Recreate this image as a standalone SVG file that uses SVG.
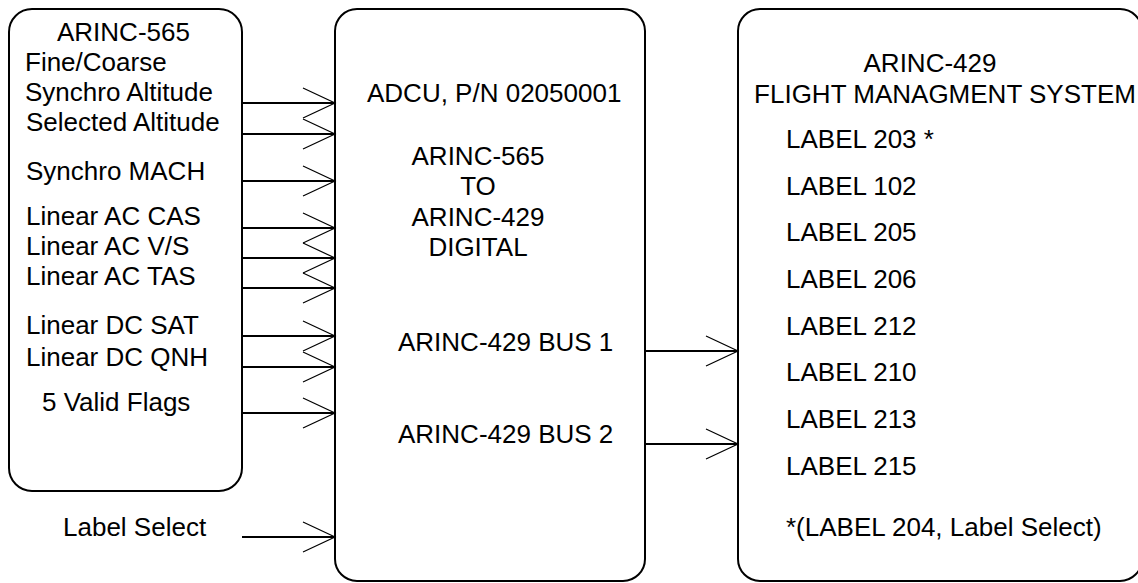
<svg xmlns="http://www.w3.org/2000/svg" width="1138" height="583" viewBox="0 0 1138 583">
<style>
.box{fill:#fff;stroke:#000;stroke-width:2}
.t{font-family:"Liberation Sans",Arial,sans-serif;font-size:26px;fill:#000}
.c{text-anchor:middle}
.ln{stroke:#000;stroke-width:2;fill:none;marker-end:url(#arr)}
</style>
<defs>
<marker id="arr" markerUnits="userSpaceOnUse" markerWidth="40" markerHeight="34" viewBox="0 0 40 34" refX="36" refY="17" orient="auto" overflow="visible">
<path d="M4,2 L36,17 L4,32" fill="none" stroke="#000" stroke-width="1.2"/>
</marker>
</defs>
<rect width="1138" height="583" fill="#fff"/>
<g id="inputs">
<rect class="box" x="9" y="9" width="233" height="482" rx="23" ry="23"/>
<text class="t" x="57" y="41">ARINC-565</text>
<text class="t" x="25" y="71">Fine/Coarse</text>
<text class="t" x="25" y="101">Synchro Altitude</text>
<text class="t" x="26" y="131">Selected Altitude</text>
<text class="t" x="26" y="180">Synchro MACH</text>
<text class="t" x="26" y="225">Linear AC CAS</text>
<text class="t" x="26" y="255">Linear AC V/S</text>
<text class="t" x="26" y="285">Linear AC TAS</text>
<text class="t" x="26" y="334">Linear DC SAT</text>
<text class="t" x="26" y="366">Linear DC QNH</text>
<text class="t" x="42" y="411">5 Valid Flags</text>
</g>
<g id="label-select">
<text class="t" x="63" y="536">Label Select</text>
</g>
<g id="adcu">
<rect class="box" x="335" y="9" width="310" height="572" rx="22" ry="22"/>
<text class="t" x="367" y="102">ADCU, P/N 02050001</text>
<text class="t c" x="478" y="165">ARINC-565</text>
<text class="t c" x="478" y="195">TO</text>
<text class="t c" x="478" y="226">ARINC-429</text>
<text class="t c" x="478" y="256">DIGITAL</text>
<text class="t" x="398" y="351">ARINC-429 BUS 1</text>
<text class="t" x="398" y="443">ARINC-429 BUS 2</text>
</g>
<g id="fms">
<rect class="box" x="738" y="9" width="404" height="572" rx="22" ry="22"/>
<text class="t c" x="930" y="72">ARINC-429</text>
<text class="t c" x="945" y="103">FLIGHT MANAGMENT SYSTEM</text>
<text class="t" x="786" y="148">LABEL 203 *</text>
<text class="t" x="786" y="195">LABEL 102</text>
<text class="t" x="786" y="241">LABEL 205</text>
<text class="t" x="786" y="288">LABEL 206</text>
<text class="t" x="786" y="335">LABEL 212</text>
<text class="t" x="786" y="381">LABEL 210</text>
<text class="t" x="786" y="428">LABEL 213</text>
<text class="t" x="786" y="475">LABEL 215</text>
<text class="t" x="786" y="536">*(LABEL 204, Label Select)</text>
</g>
<g id="connectors">
<line class="ln" x1="242" y1="103" x2="335" y2="103"/>
<line class="ln" x1="242" y1="134" x2="335" y2="134"/>
<line class="ln" x1="242" y1="181" x2="335" y2="181"/>
<line class="ln" x1="242" y1="228" x2="335" y2="228"/>
<line class="ln" x1="242" y1="258" x2="335" y2="258"/>
<line class="ln" x1="242" y1="288" x2="335" y2="288"/>
<line class="ln" x1="242" y1="336" x2="335" y2="336"/>
<line class="ln" x1="242" y1="367" x2="335" y2="367"/>
<line class="ln" x1="242" y1="413" x2="335" y2="413"/>
<line class="ln" x1="242" y1="537" x2="335" y2="537"/>
<line class="ln" x1="645" y1="351" x2="738" y2="351"/>
<line class="ln" x1="645" y1="444" x2="738" y2="444"/>
</g>
</svg>
